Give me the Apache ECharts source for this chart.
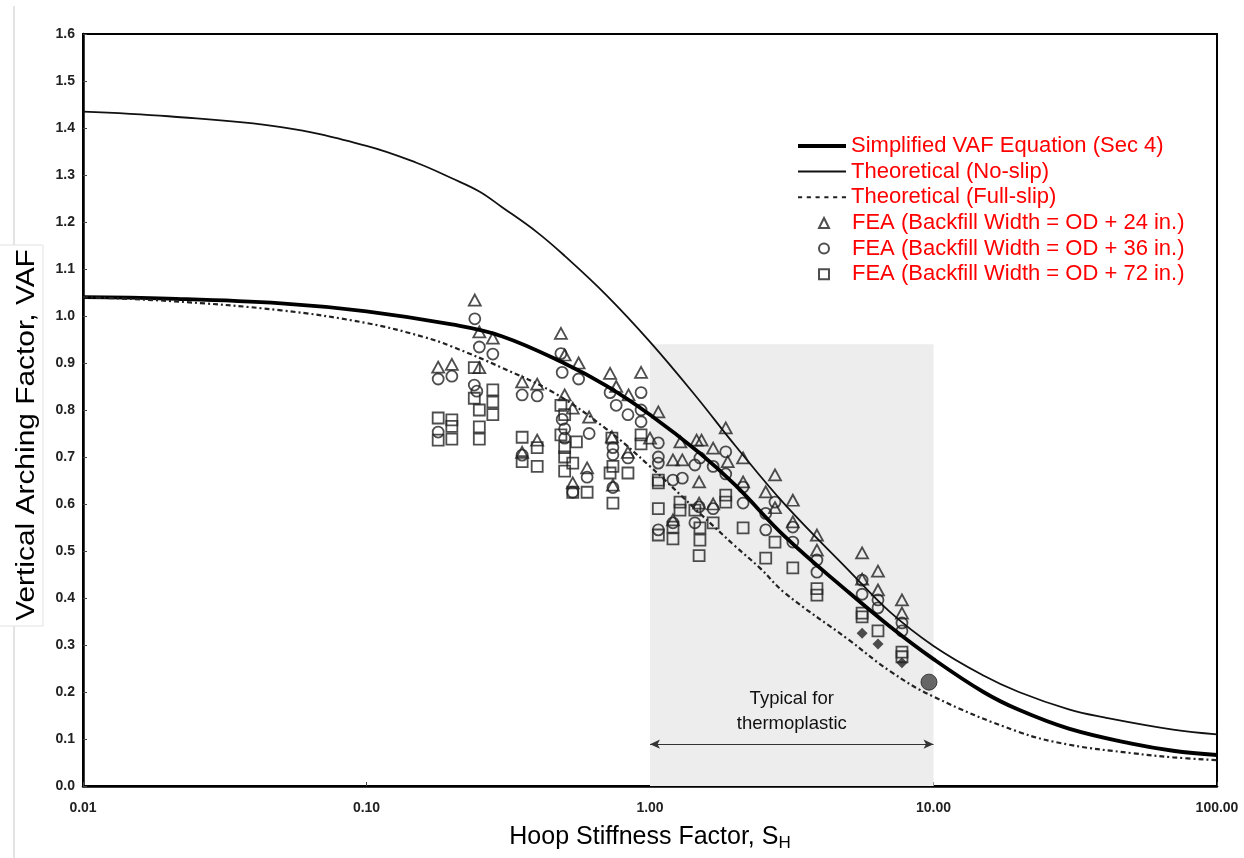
<!DOCTYPE html>
<html>
<head>
<meta charset="utf-8">
<script src="https://cdn.jsdelivr.net/npm/echarts@6/dist/echarts.min.js"></script>
<style>
html,body{margin:0;padding:0;background:#fff;}
#chart{width:1244px;height:858px;}
</style>
</head>
<body>
<div id="chart"></div>
<script>
// ---- Data ----
const xTickLabels = ['0.01', '0.10', '1.00', '10.00', '100.00'];
const yTickLabels = ['0.0','0.1','0.2','0.3','0.4','0.5','0.6','0.7','0.8','0.9','1.0','1.1','1.2','1.3','1.4','1.5','1.6'];

const simplifiedVAF = [
  [0.01, 1.040], [0.02, 1.037], [0.05, 1.027], [0.1, 1.010], [0.2, 0.982], [0.3, 0.957],
  [0.5, 0.899], [0.7, 0.852], [1.0, 0.790], [1.5, 0.708], [2, 0.640], [3, 0.530],
  [5, 0.413], [7, 0.340], [10, 0.270], [15, 0.200], [20, 0.162], [30, 0.122],
  [50, 0.090], [70, 0.075], [100, 0.066]
];
const noSlip = [
  [0.01, 1.435], [0.02, 1.425], [0.05, 1.402], [0.1, 1.362], [0.15, 1.326], [0.2, 1.293],
  [0.25, 1.265], [0.3, 1.232], [0.4, 1.178], [0.5, 1.128], [0.7, 1.045], [1.0, 0.945],
  [1.44, 0.832], [2, 0.724], [3, 0.598], [5, 0.460], [7, 0.371], [10, 0.298], [15, 0.235],
  [20, 0.200], [30, 0.163], [40, 0.146], [70, 0.120], [100, 0.110]
];
const fullSlip = [
  [0.01, 1.040], [0.02, 1.032], [0.05, 1.012], [0.1, 0.985], [0.16, 0.955], [0.2, 0.935],
  [0.3, 0.890], [0.46, 0.836], [0.7, 0.760], [1.0, 0.680], [1.5, 0.580], [2, 0.510],
  [2.44, 0.464], [3, 0.410], [5, 0.312], [7, 0.245], [10, 0.190], [20, 0.115],
  [30, 0.088], [50, 0.070], [70, 0.061], [100, 0.055]
];

const fea24 = [
  [0.241, 1.034], [0.25, 0.966], [0.279, 0.953], [0.179, 0.891], [0.20, 0.897], [0.25, 0.89],
  [0.354, 0.86], [0.40, 0.855], [0.354, 0.71], [0.40, 0.736],
  [0.485, 0.963], [0.50, 0.917], [0.56, 0.90], [0.723, 0.878], [0.76, 0.85], [0.84, 0.832],
  [0.93, 0.88], [0.50, 0.832], [0.534, 0.804], [0.61, 0.785], [0.60, 0.677], [0.534, 0.645],
  [0.734, 0.743], [0.836, 0.71], [0.74, 0.64],
  [1.07, 0.796], [1.0, 0.74], [1.28, 0.732], [1.205, 0.694], [1.30, 0.694], [1.205, 0.566],
  [1.46, 0.736], [1.52, 0.736], [1.49, 0.647], [1.49, 0.602], [1.67, 0.719], [1.67, 0.60],
  [1.85, 0.762], [1.88, 0.69], [2.13, 0.698], [2.13, 0.647], [2.76, 0.662], [2.56, 0.626],
  [2.76, 0.592], [3.19, 0.608], [3.19, 0.562], [3.88, 0.534], [3.88, 0.502],
  [5.6, 0.496], [5.6, 0.44], [6.37, 0.457], [6.37, 0.417], [7.74, 0.396], [7.74, 0.368]
];
const fea36 = [
  [0.241, 0.994], [0.25, 0.934], [0.279, 0.919], [0.179, 0.866], [0.20, 0.872], [0.24, 0.853],
  [0.245, 0.84], [0.179, 0.753], [0.354, 0.832], [0.40, 0.83], [0.354, 0.704],
  [0.485, 0.92], [0.49, 0.88], [0.56, 0.866], [0.723, 0.837], [0.76, 0.81], [0.836, 0.79],
  [0.93, 0.837], [0.93, 0.80], [0.93, 0.775], [0.49, 0.78], [0.61, 0.75], [0.50, 0.76],
  [0.50, 0.74], [0.60, 0.657], [0.534, 0.625], [0.74, 0.72], [0.74, 0.705], [0.836, 0.698],
  [0.74, 0.635],
  [1.07, 0.73], [1.07, 0.70], [1.07, 0.687], [1.07, 0.545], [1.205, 0.651], [1.30, 0.655],
  [1.205, 0.56], [1.50, 0.698], [1.44, 0.683], [1.49, 0.594], [1.44, 0.56], [1.67, 0.68],
  [1.67, 0.59], [1.85, 0.711], [1.85, 0.664], [2.13, 0.636], [2.13, 0.602], [2.76, 0.604],
  [2.56, 0.58], [2.56, 0.545], [3.19, 0.551], [3.19, 0.519], [3.88, 0.481], [3.88, 0.455],
  [5.6, 0.438], [5.6, 0.408], [6.37, 0.396], [6.37, 0.379], [7.74, 0.347], [7.74, 0.33]
];
const fea72 = [
  [0.24, 0.89], [0.24, 0.825], [0.279, 0.843], [0.279, 0.817], [0.279, 0.79], [0.25, 0.80],
  [0.25, 0.764], [0.25, 0.738], [0.179, 0.783], [0.179, 0.736], [0.20, 0.779], [0.20, 0.765],
  [0.20, 0.738], [0.354, 0.742], [0.354, 0.69], [0.40, 0.72], [0.40, 0.68],
  [0.485, 0.747], [0.485, 0.81], [0.50, 0.79], [0.50, 0.72], [0.50, 0.70], [0.50, 0.67],
  [0.55, 0.732], [0.534, 0.687], [0.534, 0.625], [0.60, 0.625], [0.734, 0.74], [0.723, 0.666],
  [0.74, 0.68], [0.836, 0.666], [0.74, 0.602], [0.93, 0.747], [0.93, 0.728],
  [1.07, 0.651], [1.07, 0.645], [1.07, 0.59], [1.07, 0.534], [1.276, 0.604], [1.276, 0.587],
  [1.205, 0.551], [1.205, 0.526], [1.44, 0.587], [1.50, 0.549], [1.50, 0.523], [1.49, 0.49],
  [1.67, 0.56], [1.85, 0.619], [1.85, 0.604], [2.13, 0.549], [2.76, 0.519], [2.56, 0.485],
  [3.19, 0.464], [3.88, 0.406], [3.88, 0.42], [5.6, 0.368], [5.6, 0.36], [6.37, 0.33],
  [7.74, 0.285], [7.74, 0.275]
];
const feaFilledDiamond = [[5.6, 0.325], [6.37, 0.302], [7.74, 0.262]];
const feaFilledCircle = [[9.64, 0.221]];

const typicalRange = [1, 10];
const typicalTop = 0.94;
const arrowLevel = 0.089;

const lineNames = ['Simplified VAF Equation (Sec 4)', 'Theoretical (No-slip)', 'Theoretical (Full-slip)'];
const feaNames = ['FEA (Backfill Width = OD + 24 in.)', 'FEA (Backfill Width = OD + 36 in.)', 'FEA (Backfill Width = OD + 72 in.)'];

// ---- Chart ----
const chart = echarts.init(document.getElementById('chart'));
const FONT = 'Liberation Sans, Arial, Helvetica, sans-serif';
const hollow = { color: 'rgba(0,0,0,0)', borderColor: '#222', borderWidth: 1.8 };
const dotsIcon = 'path://M0,0h4v2h-4z M8.5,0h4v2h-4z M17,0h4v2h-4z M25.5,0h4v2h-4z M34,0h4v2h-4z M42.5,0h4v2h-4z';

chart.setOption({
  animation: false,
  backgroundColor: '#fff',
  textStyle: { fontFamily: FONT },
  graphic: [
    { type: 'line', z: -10, silent: true, shape: { x1: 14, y1: 6, x2: 14, y2: 858 }, style: { stroke: '#c8c8c8', lineWidth: 1 } },
    { type: 'rect', z: -9, silent: true, shape: { x: -1, y: 245, width: 44, height: 381 }, style: { fill: '#fff', stroke: '#e2e2e2', lineWidth: 1 } },
    { type: 'text', z: 10, silent: true, x: 27, y: 435, rotation: Math.PI / 2, scaleX: 1.15,
      style: { text: 'Vertical Arching Factor, VAF', fontSize: 26, fontFamily: FONT, fill: '#000', align: 'center', verticalAlign: 'middle' } }
  ],
  grid: { left: 83, right: 27, top: 34, bottom: 72, show: true, borderColor: '#000', borderWidth: 2, backgroundColor: 'rgba(0,0,0,0)' },
  legend: [
    {
      orient: 'vertical', left: 793, top: 130, itemWidth: 48, itemHeight: 10, itemGap: 3.6,
      textStyle: { color: '#ff0000', fontSize: 22, lineHeight: 22, fontFamily: FONT },
      data: [
        { name: lineNames[0], icon: 'path://M0,0h48v4h-48z', itemStyle: { color: '#000', borderWidth: 0 } },
        { name: lineNames[1], icon: 'path://M0,0h48v2h-48z', itemStyle: { color: '#111', borderWidth: 0 } },
        { name: lineNames[2], icon: dotsIcon, itemStyle: { color: '#222', borderWidth: 0 } }
      ]
    },
    {
      orient: 'vertical', left: 813, top: 207, itemWidth: 10, itemHeight: 10, itemGap: 3.6,
      textStyle: { color: '#ff0000', fontSize: 22, lineHeight: 22, fontFamily: FONT, padding: [0, 0, 0, 18] },
      data: [
        { name: feaNames[0], icon: 'triangle' },
        { name: feaNames[1], icon: 'circle' },
        { name: feaNames[2], icon: 'rect' }
      ]
    }
  ],
  xAxis: {
    type: 'log', logBase: 10, min: 0.01, max: 100,
    axisLine: { show: true, lineStyle: { color: '#000', width: 2.5 } },
    axisTick: { show: true, inside: true, length: 4, lineStyle: { color: '#444' } },
    axisLabel: { formatter: (v) => xTickLabels[Math.round(Math.log10(v)) + 2] || '', fontSize: 14, fontWeight: 'bold', color: '#222', margin: 15 },
    splitLine: { show: false },
    name: '{m|Hoop Stiffness Factor, S}{s|H}', nameLocation: 'middle', nameGap: 36,
    nameTextStyle: { rich: { m: { fontSize: 25, color: '#000', fontFamily: FONT }, s: { fontSize: 17, color: '#000', fontFamily: FONT, padding: [13, 0, 0, 0] } } }
  },
  yAxis: {
    type: 'value', min: 0, max: 1.6, interval: 0.1,
    axisLine: { show: true, lineStyle: { color: '#000', width: 2.5 } },
    axisTick: { show: true, inside: true, length: 4, lineStyle: { color: '#444' } },
    axisLabel: { formatter: (v) => yTickLabels[Math.round(v * 10)] || '', fontSize: 14, fontWeight: 'bold', color: '#222', margin: 8 },
    splitLine: { show: false }
  },
  series: [
    {
      name: lineNames[0], type: 'line', data: simplifiedVAF, smooth: 0.4,
      symbol: 'none', lineStyle: { color: '#000', width: 3.8 }, itemStyle: { color: '#000' }, z: 4
    },
    {
      name: lineNames[1], type: 'line', data: noSlip, smooth: 0.4,
      symbol: 'none', lineStyle: { color: '#111', width: 1.8 }, itemStyle: { color: '#111' }, z: 4
    },
    {
      name: lineNames[2], type: 'line', data: fullSlip, smooth: 0.4,
      symbol: 'none', lineStyle: { color: '#222', width: 2.2, type: [5, 3, 2, 3] }, itemStyle: { color: '#222' }, z: 4,
      markArea: {
        silent: true, itemStyle: { color: '#ededed' },
        data: [[{ coord: [typicalRange[0], 0] }, { coord: [typicalRange[1], typicalTop] }]]
      },
      markLine: {
        silent: true, symbol: ['arrow', 'arrow'], symbolSize: [7, 10],
        lineStyle: { color: '#333', width: 1, type: 'solid' },
        label: { show: true, position: 'insideMiddleTop', formatter: 'Typical for\nthermoplastic', fontSize: 18.5, lineHeight: 25, color: '#111', distance: 8, fontFamily: FONT },
        data: [[{ coord: [typicalRange[0], arrowLevel] }, { coord: [typicalRange[1], arrowLevel] }]]
      }
    },
    {
      name: feaNames[0], type: 'scatter', data: fea24,
      symbol: 'triangle', symbolSize: [12, 11], itemStyle: hollow, z: 3
    },
    {
      name: feaNames[1], type: 'scatter', data: fea36,
      symbol: 'circle', symbolSize: 11, itemStyle: hollow, z: 3
    },
    {
      name: feaNames[2], type: 'scatter', data: fea72,
      symbol: 'rect', symbolSize: 11, itemStyle: hollow, z: 3
    },
    {
      name: 'FEA (other)', type: 'scatter', data: feaFilledDiamond,
      symbol: 'diamond', symbolSize: 11, itemStyle: { color: '#222' }, z: 3
    },
    {
      name: 'FEA (other, large)', type: 'scatter', data: feaFilledCircle,
      symbol: 'circle', symbolSize: 16, itemStyle: { color: '#444', borderColor: '#222', borderWidth: 1 }, z: 3
    }
  ]
});
</script>
</body>
</html>
